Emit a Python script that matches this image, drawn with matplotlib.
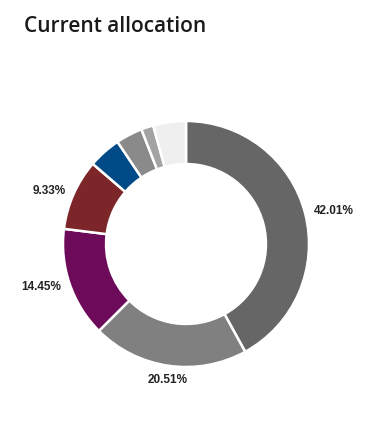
import numpy as np
import matplotlib.pyplot as plt
from matplotlib import font_manager

# slice values (%), clockwise from 12 o'clock
shares = [42.01, 20.51, 14.45, 9.33, 4.3, 3.5, 1.6, 4.3]
colors = ['#666666', '#808080', '#6d0a5a', '#7c2629', '#004b87', '#8a8a8a', '#a3a3a3', '#efefef']
labels = ['42.01%', '20.51%', '14.45%', '9.33%', '', '', '', '']

# pick the regular-width Liberation Sans Bold (not the Narrow cut)
label_font = font_manager.FontProperties(family='DejaVu Sans', weight='bold', size=8.5)
for f in font_manager.fontManager.ttflist:
    if f.name == 'Liberation Sans' and f.weight in (700, 'bold') and f.style == 'normal' \
            and 'Narrow' not in f.fname:
        label_font = font_manager.FontProperties(fname=f.fname, size=8.5)
        break

W, H = 385, 432
fig = plt.figure(figsize=(W / 100, H / 100), dpi=100)
fig.patch.set_facecolor('white')

fig.text(24 / W, 1 - 27 / H, 'Current allocation', fontsize=15, fontweight='semibold',
         family=['Open Sans', 'DejaVu Sans'], color='#1a1a1a', va='center', ha='left')

cx, cy, R = 186, 244, 123
ax = fig.add_axes([(cx - R) / W, (H - cy - R) / H, 2 * R / W, 2 * R / H])
wedges, _ = ax.pie(shares, colors=colors, startangle=90, counterclock=False, radius=1,
                   wedgeprops=dict(width=0.35, edgecolor='white', linewidth=1.8))
ax.set_xlim(-1, 1)
ax.set_ylim(-1, 1)
ax.axis('off')

for w, lab in zip(wedges, labels):
    if not lab:
        continue
    ang = np.deg2rad((w.theta1 + w.theta2) / 2)
    x, y = 1.07 * np.cos(ang), 1.07 * np.sin(ang)
    if abs(np.cos(ang)) < 0.3:
        ha = 'center'
        va = 'top' if y < 0 else 'bottom'
    else:
        ha = 'left' if x > 0 else 'right'
        va = 'center'
    ax.text(x, y, lab, ha=ha, va=va, fontproperties=label_font,
            color='#222222', clip_on=False)

fig.savefig('out.png', dpi=100, facecolor='white')
